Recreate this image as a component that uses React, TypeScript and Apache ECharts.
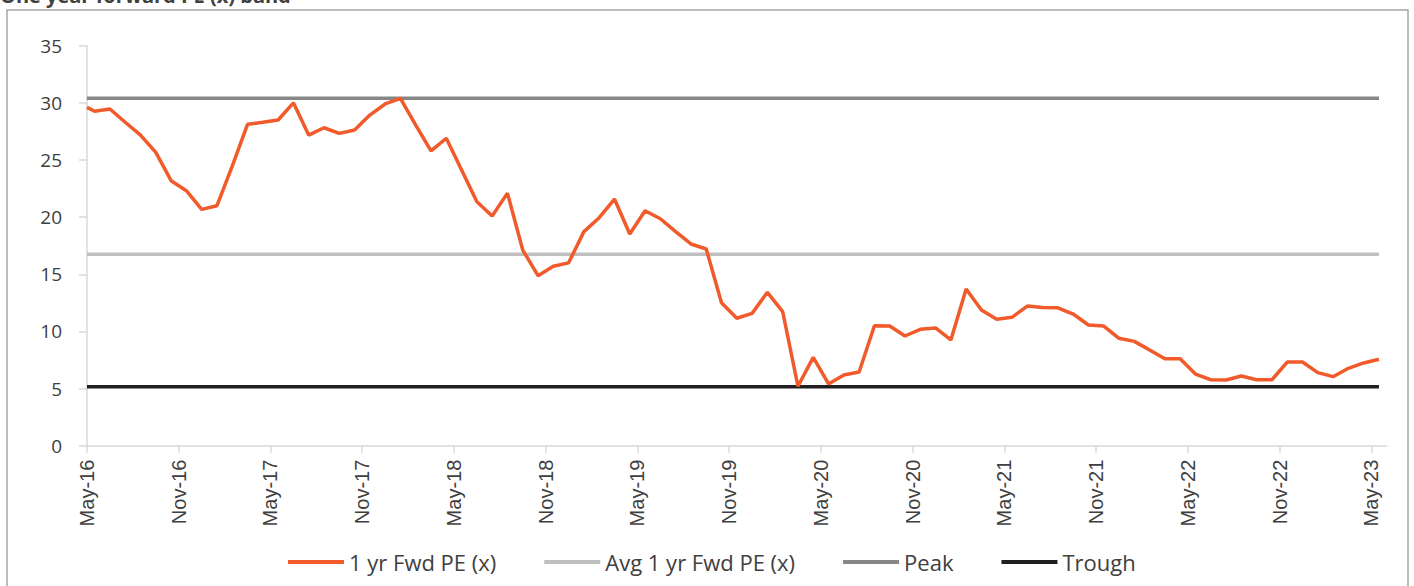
import React, { useEffect, useRef } from "react";
import * as echarts from "echarts";

const titleText = "One year forward PE (x) band";

const tickLabels = [
  "May-16", "Nov-16", "May-17", "Nov-17", "May-18", "Nov-18", "May-19", "Nov-19",
  "May-20", "Nov-20", "May-21", "Nov-21", "May-22", "Nov-22", "May-23",
];

// 1 yr forward PE (x): first reading at the start of May-16, then one reading per month
const peValues = [
  29.6,
  29.26, 29.46, 28.3, 27.18, 25.67, 23.19, 22.31, 20.68, 21.0, 24.47,
  28.12, 28.3, 28.5, 30.0, 27.18, 27.82, 27.33, 27.62, 28.93, 29.9,
  30.4, 28.05, 25.8, 26.9, 24.12, 21.35, 20.1, 22.1, 17.12, 14.88,
  15.7, 16.0, 18.73, 19.95, 21.58, 18.52, 20.56, 19.86, 18.73, 17.65,
  17.21, 12.51, 11.15, 11.58, 13.42, 11.73, 5.2, 7.73, 5.4, 6.19,
  6.45, 10.5, 10.47, 9.6, 10.18, 10.3, 9.25, 13.71, 11.87, 11.06,
  11.23, 12.22, 12.1, 12.07, 11.52, 10.56, 10.47, 9.4, 9.13, 8.37,
  7.61, 7.61, 6.27, 5.77, 5.75, 6.1, 5.77, 5.77, 7.32, 7.32,
  6.39, 6.04, 6.77, 7.24, 7.56,
];

const avgValue = 16.75;
const peakValue = 30.4;
const troughValue = 5.15;

const seriesNames = ["1 yr Fwd PE (x)", "Avg 1 yr Fwd PE (x)", "Peak", "Trough"];
const seriesColors = ["#F15A2B", "#BFBFBF", "#878787", "#1F1F1F"];

export default function App() {
  const ref = useRef<HTMLDivElement>(null);

  useEffect(() => {
    document.body.style.margin = "0";
    if (!ref.current) return;
    const chart = echarts.init(ref.current, undefined, { renderer: "svg" });

    // month offset from May-16 for each reading
    const xs = peValues.map((_, i) => (i === 0 ? 0 : i - 0.5));
    const lastX = xs[xs.length - 1];
    const peData = peValues.map((v, i) => [xs[i], v]);
    const flat = (v: number) => [[0, v], [lastX, v]];
    const tickVals = tickLabels.map((_, i) => i * 6);

    const lineSeries = (name: string, data: number[][], color: string, z: number) => ({
      name,
      type: "line",
      data,
      symbol: "none",
      z,
      lineStyle: { color, width: 3.5 },
      itemStyle: { color },
    });

    chart.setOption({
      animation: false,
      graphic: [
        {
          type: "rect",
          shape: { x: 7, y: 10, width: 1401, height: 600 },
          style: { fill: "none", stroke: "#A6A6A6", lineWidth: 1.5 },
          silent: true,
        },
        {
          type: "text",
          x: 0,
          y: 5,
          style: {
            text: titleText,
            font: "bold 20px 'Open Sans'",
            fill: "#404040",
            verticalAlign: "bottom",
            align: "left",
          },
          silent: true,
        },
      ],
      grid: { left: 87, right: 27.4, top: 45.7, bottom: 140.3, containLabel: false },
      legend: {
        left: 283,
        top: 546,
        itemWidth: 56,
        itemHeight: 4,
        itemGap: 48,
        icon: "rect",
        textStyle: { fontFamily: "Open Sans", fontSize: 22, color: "#404040" },
        data: seriesNames,
      },
      xAxis: {
        type: "value",
        min: 0,
        max: 85,
        interval: 6,
        splitLine: { show: false },
        axisLine: { show: true, lineStyle: { color: "#D9D9D9", width: 1.5 } },
        axisTick: { show: true, length: 7, customValues: tickVals, lineStyle: { color: "#D9D9D9", width: 1.5 } },
        axisLabel: {
          customValues: tickVals,
          rotate: 90,
          margin: 14,
          color: "#404040",
          fontFamily: "Liberation Sans",
          fontSize: 20,
          formatter: (v: number) => {
            const idx = Math.round(v / 6);
            return v % 6 === 0 && tickLabels[idx] ? tickLabels[idx] : "";
          },
        },
      },
      yAxis: {
        type: "value",
        min: 0,
        max: 35,
        interval: 5,
        splitLine: { show: false },
        axisLine: { show: true, lineStyle: { color: "#D9D9D9", width: 1.5 } },
        axisTick: { show: true, length: 8, lineStyle: { color: "#D9D9D9", width: 1.5 } },
        axisLabel: { margin: 25, color: "#404040", fontFamily: "Open Sans", fontSize: 19 },
      },
      series: [
        lineSeries(seriesNames[0], peData, seriesColors[0], 5),
        lineSeries(seriesNames[1], flat(avgValue), seriesColors[1], 2),
        lineSeries(seriesNames[2], flat(peakValue), seriesColors[2], 2),
        lineSeries(seriesNames[3], flat(troughValue), seriesColors[3], 2),
      ],
    });

    return () => chart.dispose();
  }, []);

  return <div ref={ref} style={{ width: 1414, height: 586 }} />;
}
